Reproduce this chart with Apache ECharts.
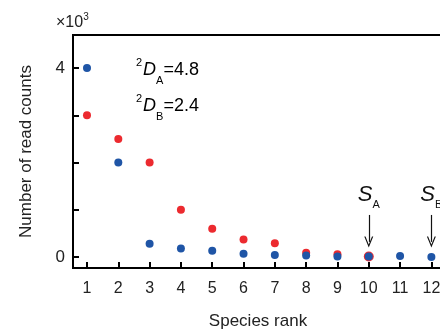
<!DOCTYPE html>
<html>
<head>
<meta charset="utf-8">
<script src="https://cdn.jsdelivr.net/npm/echarts@6/dist/echarts.min.js"></script>
<style>
  html, body { margin: 0; padding: 0; background: #fff; }
  #chart { width: 440px; height: 329px; }
</style>
</head>
<body>
<div id="chart"></div>
<script>
// species rank on x, read counts (x10^3) on y
const ranks = [1, 2, 3, 4, 5, 6, 7, 8, 9, 10, 11, 12];
const countsA = [3.0, 2.5, 2.0, 1.0, 0.6, 0.37, 0.29, 0.09, 0.06, 0.01];
const countsB = [4.0, 2.0, 0.28, 0.18, 0.13, 0.07, 0.04, 0.03, 0.01, 0.01, 0.02, 0.0];
const yTicks = [0, 1, 2, 3, 4];
const yLabels = [0, 4];
const groups = ['A', 'B'];
const richness = [10, 12];      // S_A, S_B
const diversity2 = [4.8, 2.4];  // 2D_A, 2D_B

const font = 'Liberation Sans, Arial, sans-serif';
const red = '#ec2a2f';
const blue = '#1f55a6';

const chart = echarts.init(document.getElementById('chart'), null, { renderer: 'canvas' });

function arrowLine(i) {
  return {
    silent: true,
    symbol: ['none', 'path://M50,0 L100,100 L86,100 L50,26 L14,100 L0,100 Z'],
    symbolSize: [9, 11],
    lineStyle: { color: '#111', width: 1.2, type: 'solid' },
    label: {
      show: true,
      position: 'start',
      distance: 9,
      formatter: '{s|S}{sub|' + groups[i] + '}',
      rich: {
        s: { fontFamily: font, fontStyle: 'italic', fontSize: 22, color: '#111', verticalAlign: 'top', lineHeight: 22 },
        sub: { fontFamily: font, fontSize: 11, color: '#111', verticalAlign: 'bottom', lineHeight: 22, padding: [0, 0, -5, 0] }
      }
    },
    data: [[{ coord: [richness[i], 0.89] }, { coord: [richness[i], 0.32] }]]
  };
}

function dLabel(i) {
  return '{sup|2}{d|D}{sub|' + groups[i] + '}{v|=' + diversity2[i].toFixed(1) + '}';
}
const dRich = {
  sup: { fontFamily: font, fontSize: 11, color: '#222', verticalAlign: 'top', lineHeight: 20, padding: [-3, 1, 0, 0] },
  d: { fontFamily: font, fontSize: 18, fontStyle: 'italic', color: '#222', lineHeight: 20 },
  sub: { fontFamily: font, fontSize: 11, color: '#222', verticalAlign: 'bottom', lineHeight: 20, padding: [0, 0, -6, 0] },
  v: { fontFamily: font, fontSize: 18, color: '#222', lineHeight: 20 }
};

const option = {
  backgroundColor: '#fff',
  animation: false,
  grid: {
    left: 73, top: 35, width: 390, bottom: 61,
    outerBoundsMode: 'none',
    containLabel: false,
    show: true, borderColor: '#000', borderWidth: 2
  },
  xAxis: {
    type: 'value',
    min: 0.553, max: 13.01,
    name: 'Species rank',
    nameLocation: 'middle',
    nameGap: 45,
    nameTextStyle: { fontFamily: font, fontSize: 17, color: '#222', padding: [0, 20, 0, 0] },
    axisLine: { show: true, onZero: false, lineStyle: { color: '#000', width: 2 } },
    axisTick: { show: true, inside: true, length: 6, customValues: ranks, lineStyle: { color: '#000', width: 2 } },
    axisLabel: { customValues: ranks, margin: 13, fontFamily: font, fontSize: 16, color: '#222' },
    splitLine: { show: false }
  },
  yAxis: {
    type: 'value',
    min: -0.233, max: 4.7,
    name: 'Number of read counts',
    nameLocation: 'middle',
    nameGap: 38,
    nameTextStyle: { fontFamily: font, fontSize: 17, color: '#222' },
    axisLine: { show: true, onZero: false, lineStyle: { color: '#000', width: 2 } },
    axisTick: { show: true, inside: true, length: 6, customValues: yTicks, lineStyle: { color: '#000', width: 2 } },
    axisLabel: { customValues: yLabels, margin: 8, fontFamily: font, fontSize: 17, color: '#222' },
    splitLine: { show: false }
  },
  graphic: [
    {
      type: 'text', left: 56, top: 12,
      style: {
        text: '{m|\u00d710}{e|3}',
        rich: {
          m: { fontFamily: font, fontSize: 16, fill: '#222', lineHeight: 18 },
          e: { fontFamily: font, fontSize: 10, fill: '#222', verticalAlign: 'top', lineHeight: 18, padding: [-2, 0, 0, 0] }
        }
      }
    },
    { type: 'text', left: 136, top: 57, style: { text: dLabel(0), rich: dRich } },
    { type: 'text', left: 136, top: 93, style: { text: dLabel(1), rich: dRich } }
  ],
  series: [
    {
      name: 'A',
      type: 'scatter',
      data: countsA.map((v, i) => [ranks[i], v]),
      symbolSize: (v, p) => (p.dataIndex === countsA.length - 1 ? 10 : 8),
      itemStyle: { color: red, opacity: 1 },
      z: 2,
      markLine: arrowLine(0)
    },
    {
      name: 'B',
      type: 'scatter',
      data: countsB.map((v, i) => [ranks[i], v]),
      symbolSize: 8,
      itemStyle: { color: blue, opacity: 1 },
      z: 3,
      markLine: arrowLine(1)
    }
  ]
};
chart.setOption(option);
</script>
</body>
</html>
